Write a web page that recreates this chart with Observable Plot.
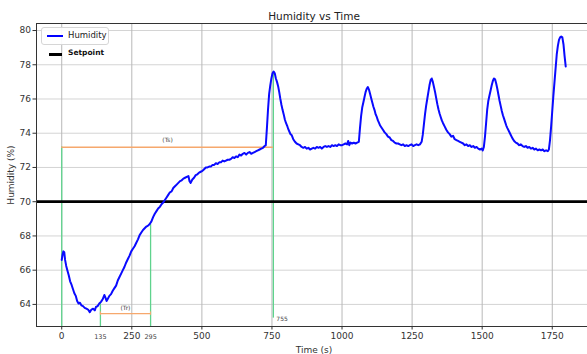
<!DOCTYPE html>
<html>
<head>
<meta charset="utf-8">
<script src="https://cdn.jsdelivr.net/npm/d3@7"></script>
<script src="https://cdn.jsdelivr.net/npm/@observablehq/plot@0.6"></script>
<style>
  html, body { margin: 0; padding: 0; background: #fff; overflow: hidden; }
  #wrap { position: relative; width: 587px; height: 354px; overflow: hidden; font-family: "DejaVu Sans", sans-serif; }
  #wrap svg { max-width: none !important; }
  #legend1 { position: absolute; left: 41px; top: 27px; width: 66px; height: 16px; border: 1px solid #d6d6d6; border-radius: 3px; background: rgba(255,255,255,0.9); font-size: 8.5px; color: #222; }
  #legend1 .sw { position: absolute; left: 5px; top: 7px; width: 16px; height: 2px; background: #0000ff; }
  #legend1 .lb { position: absolute; left: 26px; top: 2px; }
  #legend2 { position: absolute; left: 49px; top: 48px; font-size: 7.5px; font-weight: bold; color: #111; }
  #legend2 .sw { position: absolute; left: 0px; top: 5px; width: 13px; height: 3px; background: #000; }
  #legend2 .lb { position: absolute; left: 19px; top: 0px; white-space: nowrap; }
</style>
</head>
<body>
<div id="wrap"></div>
<script>
// ---- data ----
const timeS = [0,3,6,9,12,16,20,25,30,35,40,45,50,55,60,65,70,76,82,88,94,100,106,112,118,122,128,134,140,146,152,156,160,165,170,176,182,188,194,200,206,212,218,224,230,236,242,248,254,260,266,272,278,284,290,296,302,308,314,320,326,332,338,344,350,356,362,368,374,380,386,392,398,404,410,416,422,428,434,440,446,452,456,460,466,472,478,484,490,496,502,508,514,520,526,532,538,544,550,556,562,568,574,580,586,592,598,604,610,616,622,628,634,640,646,652,658,664,670,676,682,688,694,700,706,712,718,724,728,732,736,740,744,748,752,756,760,764,768,772,776,780,784,788,792,796,800,804,808,812,816,820,826,832,838,844,850,856,862,868,874,880,886,892,898,904,910,916,922,928,934,940,946,952,958,964,970,976,982,988,994,1000,1006,1012,1018,1022,1026,1030,1036,1042,1048,1054,1060,1064,1068,1072,1076,1080,1084,1088,1092,1096,1100,1104,1108,1112,1116,1120,1124,1128,1132,1136,1140,1146,1152,1158,1164,1170,1176,1182,1188,1194,1200,1206,1212,1218,1224,1230,1236,1242,1248,1254,1260,1266,1272,1278,1284,1288,1292,1296,1300,1304,1308,1312,1316,1320,1324,1328,1332,1336,1340,1344,1348,1352,1356,1360,1366,1372,1378,1384,1390,1396,1402,1408,1414,1420,1426,1432,1438,1444,1450,1456,1462,1468,1474,1480,1486,1492,1498,1502,1506,1510,1514,1518,1522,1526,1530,1534,1538,1542,1546,1550,1554,1558,1562,1566,1570,1574,1578,1582,1586,1590,1596,1602,1608,1614,1620,1626,1632,1638,1644,1650,1656,1662,1668,1674,1680,1686,1692,1698,1704,1710,1716,1722,1728,1734,1738,1742,1746,1750,1754,1758,1762,1766,1770,1774,1778,1782,1786,1790,1794,1798];
const humidityPct = [66.6,66.9,67.1,67.05,66.6,66.25,66.0,65.7,65.35,65.15,64.9,64.65,64.5,64.2,64.05,64.1,63.95,63.9,63.8,63.75,63.7,63.55,63.7,63.75,63.65,63.85,63.9,64.05,64.15,64.3,64.55,64.4,64.2,64.35,64.5,64.6,64.8,64.95,65.1,65.4,65.6,65.8,66.0,66.2,66.45,66.65,66.85,67.1,67.25,67.4,67.6,67.8,68.05,68.2,68.35,68.45,68.55,68.6,68.7,68.85,69.1,69.3,69.45,69.6,69.7,69.85,69.95,70.1,70.25,70.4,70.55,70.6,70.8,70.9,71.0,71.1,71.2,71.25,71.35,71.4,71.45,71.5,71.2,71.1,71.3,71.4,71.55,71.6,71.7,71.75,71.8,71.9,72.0,72.0,72.05,72.05,72.15,72.15,72.25,72.2,72.3,72.3,72.4,72.35,72.4,72.45,72.45,72.5,72.6,72.55,72.65,72.6,72.75,72.7,72.8,72.85,72.75,72.85,72.9,72.8,72.85,72.9,72.95,73.0,73.05,73.1,73.15,73.25,73.3,74.3,75.4,76.3,76.8,77.2,77.5,77.6,77.5,77.2,77.0,76.75,76.4,76.0,75.65,75.35,75.1,74.8,74.6,74.45,74.25,74.1,73.95,73.9,73.65,73.5,73.4,73.35,73.3,73.2,73.15,73.2,73.1,73.15,73.05,73.1,73.15,73.1,73.2,73.15,73.2,73.1,73.2,73.25,73.2,73.25,73.2,73.3,73.25,73.3,73.25,73.35,73.3,73.3,73.35,73.4,73.35,73.55,73.3,73.45,73.4,73.45,73.4,73.45,73.5,74.3,75.0,75.5,75.8,76.1,76.4,76.6,76.7,76.55,76.3,76.05,75.8,75.55,75.35,75.1,74.95,74.75,74.6,74.45,74.35,74.2,74.05,73.95,73.8,73.75,73.6,73.55,73.45,73.4,73.4,73.35,73.3,73.35,73.25,73.3,73.25,73.3,73.35,73.25,73.3,73.35,73.3,73.35,73.5,73.9,74.5,75.1,75.6,76.0,76.4,76.8,77.1,77.2,77.0,76.7,76.4,76.05,75.7,75.4,75.15,74.95,74.75,74.6,74.4,74.2,74.05,73.95,73.8,73.85,73.65,73.6,73.55,73.5,73.45,73.4,73.3,73.35,73.25,73.3,73.2,73.25,73.15,73.2,73.1,73.05,73.1,73.0,73.2,73.8,74.6,75.4,75.9,76.2,76.5,76.8,77.05,77.2,77.15,76.9,76.6,76.25,75.9,75.6,75.3,75.05,74.85,74.65,74.45,74.3,74.1,73.9,73.7,73.55,73.45,73.4,73.3,73.35,73.25,73.2,73.25,73.15,73.2,73.1,73.15,73.05,73.1,73.0,73.05,73.0,73.05,72.95,73.0,72.95,73.05,73.6,74.4,75.3,76.2,77.0,77.8,78.6,79.1,79.45,79.6,79.65,79.6,79.2,78.5,77.9];

const setpoint = 70;
const xTicks = [0, 250, 500, 750, 1000, 1250, 1500, 1750];
const yTicks = [64, 66, 68, 70, 72, 74, 76, 78, 80];
const markTimes = [0, 138, 317, 755];
const markTops = [73.2, 64.05, 68.66, 77.6];
const markBottoms = [62.71, 62.71, 62.71, 63.2];
const extraTickTimes = [138, 317];
const extraTickLabels = ["135", "295"];
const tsSpan = [0, 755];
const tsLevel = 73.18;
const trSpan = [138, 317];
const trLevel = 63.46;
const xDomain = [-90, 1890];
const yDomain = [62.71, 80.41];

const series = timeS.map((t, i) => ({t, h: humidityPct[i]}));
const marks = markTimes.map((t, i) => ({t, top: markTops[i], bottom: markBottoms[i]}));
const extraTicks = extraTickTimes.map((t, i) => ({t, label: extraTickLabels[i]}));

const chart = Plot.plot({
  width: 591,
  height: 354,
  marginLeft: 36,
  marginRight: 0,
  marginTop: 23,
  marginBottom: 28,
  style: {fontFamily: "DejaVu Sans, sans-serif", fontSize: "9px", color: "#333", background: "#fff", maxWidth: "none"},
  x: {type: "linear", domain: xDomain},
  y: {type: "linear", domain: yDomain},
  marks: [
    Plot.gridY(yTicks, {stroke: "#d4d4d4", strokeOpacity: 1, strokeWidth: 1}),
    Plot.gridX(xTicks, {stroke: "#b8b8b8", strokeOpacity: 1, strokeWidth: 1}),
    Plot.axisX(xTicks, {tickSize: 3.5, tickPadding: 3, fontSize: 9, tickFormat: d => String(d), label: "Time (s)", labelAnchor: "center", labelArrow: "none", labelOffset: 26, stroke: "#333"}),
    Plot.text(extraTicks, {x: "t", y: yDomain[0], text: "label", dy: 10, fontSize: 6.5, fill: "#444"}),
    Plot.axisY(yTicks, {tickSize: 3.5, tickPadding: 2, fontSize: 9, tickFormat: d => String(d), label: "Humidity (%)", labelAnchor: "center", labelArrow: "none", labelOffset: 29, stroke: "#333"}),
    Plot.ruleX(marks, {x: "t", y1: "bottom", y2: "top", stroke: "#5fd38d", strokeWidth: 1.3}),
    Plot.ruleY([tsLevel], {x1: tsSpan[0], x2: tsSpan[1], stroke: "#f6a86d", strokeWidth: 1.3}),
    Plot.text(["(Ts)"], {x: (tsSpan[0] + tsSpan[1]) / 2, y: tsLevel, dy: -7, fontSize: 6, fill: "#444"}),
    Plot.ruleY([trLevel], {x1: trSpan[0], x2: trSpan[1], stroke: "#f6a86d", strokeWidth: 1.3}),
    Plot.ruleX(trSpan, {x: d => d, y1: trLevel - 0.1, y2: trLevel + 0.1, stroke: "#f6a86d", strokeWidth: 1}),
    Plot.text(["(Tr)"], {x: (trSpan[0] + trSpan[1]) / 2, y: trLevel, dy: -6, fontSize: 6, fill: "#444"}),
    Plot.text([markTimes[3]], {x: d => d, y: markBottoms[3], dx: 3, dy: 1, textAnchor: "start", fontSize: 6, fill: "#444", text: d => String(d)}),
    Plot.ruleY([setpoint], {stroke: "#000", strokeWidth: 2.8}),
    Plot.line(series, {x: "t", y: "h", stroke: "#0a0aff", strokeWidth: 2, strokeLinejoin: "round"}),
    Plot.frame({stroke: "#333", strokeWidth: 1}),
    Plot.text(["Humidity vs Time"], {frameAnchor: "top", lineAnchor: "bottom", dy: -4, fontSize: 10.5, fill: "#222"})
  ]
});
chart.style.maxWidth = "none";

const wrap = document.getElementById("wrap");
wrap.appendChild(chart);
const l1 = document.createElement("div");
l1.id = "legend1";
l1.innerHTML = '<div class="sw"></div><div class="lb">Humidity</div>';
wrap.appendChild(l1);
const l2 = document.createElement("div");
l2.id = "legend2";
l2.innerHTML = '<div class="sw"></div><div class="lb">Setpoint</div>';
wrap.appendChild(l2);
</script>
</body>
</html>
